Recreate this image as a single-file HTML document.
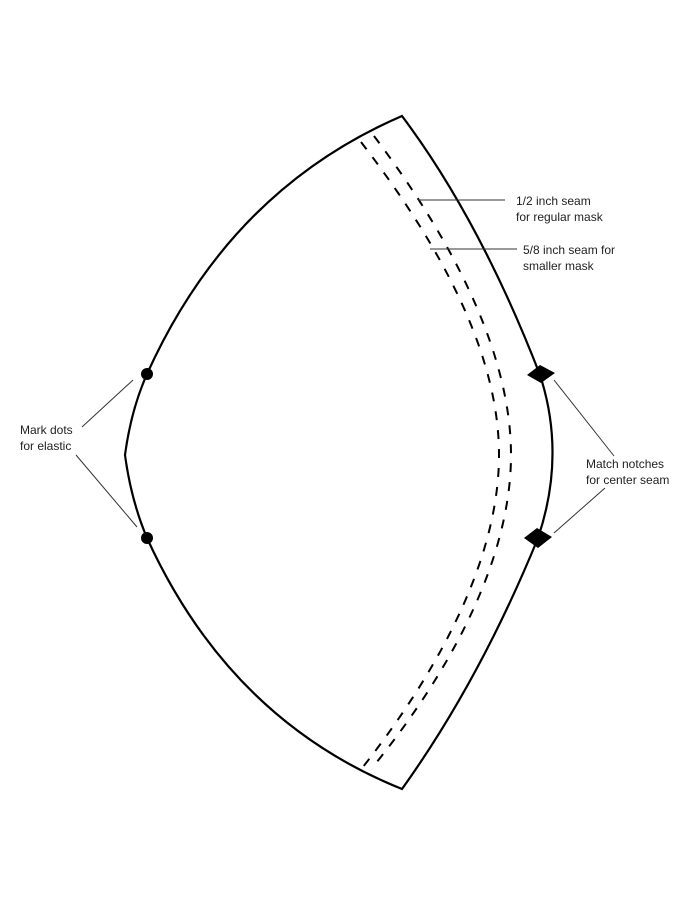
<!DOCTYPE html>
<html><head><style>
body{margin:0;background:#fff;}
svg{display:block;}
text{font-family:"Liberation Sans",sans-serif;font-size:12px;fill:#222;}
</style></head><body>
<svg width="700" height="906" viewBox="0 0 700 906">
<path d="M402,116 Q230,190 147,374 Q131,410 125,455 Q131,500 147,538 Q230,720 402,789 Q480,680 538,538 Q566,455 540,375 Q480,220 402,116 Z" fill="none" stroke="#000" stroke-width="2.2"/>
<path d="M374,136 C460,250 511,360 511,455 C511,550 460,660 372,768" fill="none" stroke="#000" stroke-width="2" stroke-dasharray="9,10"/>
<path d="M361,142 C448,255 499,360 499,455 C499,550 448,660 359,772" fill="none" stroke="#000" stroke-width="2" stroke-dasharray="9,10"/>
<polygon points="527,375 540,365 555,373 541,383" fill="#000"/>
<polygon points="524,538 537,528 552,537 538,548" fill="#000"/>
<circle cx="147" cy="374" r="6" fill="#000"/>
<circle cx="147" cy="538" r="6" fill="#000"/>
<g stroke="#333" stroke-width="1">
<line x1="418" y1="200" x2="505" y2="200"/>
<line x1="430" y1="249" x2="517" y2="249"/>
<line x1="554" y1="380" x2="614" y2="456"/>
<line x1="554" y1="533" x2="605" y2="488"/>
<line x1="133" y1="380" x2="82" y2="427"/>
<line x1="76" y1="455" x2="137" y2="527"/>
</g>
<text x="516" y="205">1/2 inch seam</text>
<text x="516" y="221">for regular mask</text>
<text x="523" y="254">5/8 inch seam for</text>
<text x="523" y="270">smaller mask</text>
<text x="586" y="468">Match notches</text>
<text x="586" y="484">for center seam</text>
<text x="20" y="434">Mark dots</text>
<text x="20" y="450">for elastic</text>
</svg>
</body></html>
